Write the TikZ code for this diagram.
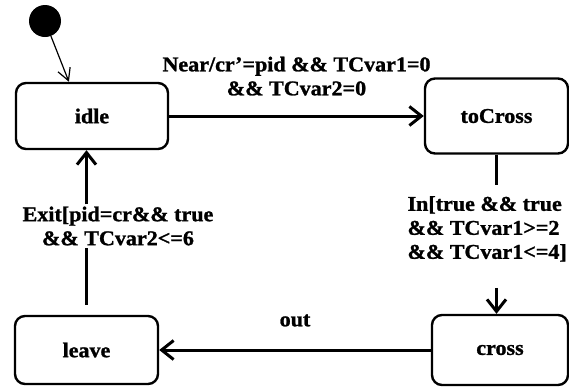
\documentclass[tikz,border=0pt]{standalone}
\usepackage{fontspec}
\setmainfont[FakeStretch=1.05,BoldFeatures={FakeBold=1.2}]{Liberation Serif}
\usetikzlibrary{arrows.meta}

\begin{document}
\begin{tikzpicture}[x=1pt,y=-1pt,
 state/.style={draw,line width=2.4pt,rounded corners=10pt,font=\fontsize{21}{24}\selectfont\bfseries},
 lbl/.style={font=\fontsize{21}{24}\selectfont\bfseries,inner sep=2pt},
 ar/.style={-{Straight Barb[length=12pt,width=19pt]},line width=3pt},
 ln/.style={line width=3pt}]
\useasboundingbox (0,0) rectangle (569,389);
\node[circle,fill=black,minimum size=32pt,inner sep=0pt] (init) at (45,21) {};
\node[state,minimum width=152pt,minimum height=66pt] (idle) at (92,116) {idle};
\node[state,minimum width=143pt,minimum height=75pt] (toCross) at (496.5,116) {toCross};
\node[state,minimum width=136pt,minimum height=70pt] (cross) at (500,350) {cross};
\node[state,minimum width=143pt,minimum height=68pt] (leave) at (86.5,350) {leave};
% guard labels
\node[lbl,align=left,anchor=north east] (inlbl) at (569,194) {In[true \&\& true\\ \&\& TCvar1>=2\\ \&\& TCvar1<=4]};
\node[lbl,align=center] (exitlbl) at (118,226) {Exit[pid=cr\&\& true\\ \&\& TCvar2<=6};
% transitions
\draw[-{Straight Barb[length=12pt,width=13pt]},line width=1.2pt] (init) -- (idle.124);
\draw[ar] (idle) -- node[lbl,above=17pt,align=center]{Near/cr'=pid \&\& TCvar1=0\\ \&\& TCvar2=0} (toCross);
\draw[ln] (toCross.south) -- ++(0,30);
\draw[ar,shorten <=24pt] (toCross.south |- inlbl.south) -- (toCross.south |- cross.north);
\draw[ar] (cross) -- node[lbl,above=20pt]{out} (leave);
\draw[ln,shorten <=10pt] (leave.north) -- (leave.north |- exitlbl.south);
\draw[ar] (leave.north |- exitlbl.north) -- (leave.north |- idle.south);
\end{tikzpicture}
\end{document}
